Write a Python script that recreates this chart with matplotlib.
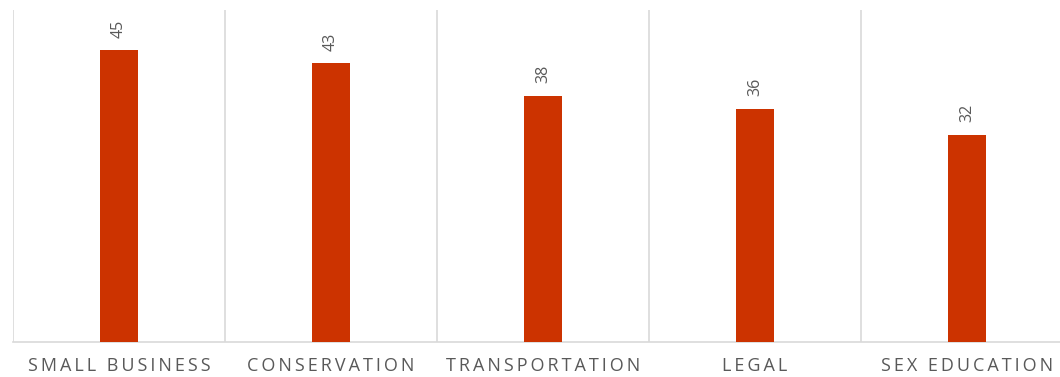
import matplotlib
matplotlib.use("Agg")
from matplotlib import pyplot as plt
import numpy as np

categories = ["SMALL BUSINESS", "CONSERVATION", "TRANSPORTATION", "LEGAL", "SEX EDUCATION"]
counts = [45, 43, 38, 36, 32]

bar_color = "#CC3300"
text_color = "#595959"
line_color = "#D9D9D9"


def spaced(s):
    # loose tracking for the category names
    return "\u2009".join(s)


fig = plt.figure(figsize=(10.6, 3.77), dpi=100)
# the plot area runs a little past the right edge of the figure
ax = fig.add_axes([13 / 1060, 35 / 377, 1060 / 1060, 332 / 377])

x = np.arange(len(categories))
rects = ax.bar(x, counts, 0.18, color=bar_color, zorder=3)

ax.set_xlim(-0.5, len(categories) - 0.5)
ax.set_ylim(0, 51.2)

for rect, val in zip(rects, counts):
    ax.annotate(str(val), (rect.get_x() + rect.get_width() / 2, rect.get_height()),
                xytext=(0, 9), textcoords="offset points", rotation=90,
                ha="center", va="bottom", color=text_color, fontsize=11.5,
                family=["Open Sans", "DejaVu Sans"])

# category separators
ax.set_xticks(np.arange(-0.5, len(categories), 1.0), minor=True)
ax.grid(True, which="minor", axis="x", color=line_color, linewidth=1.2, zorder=0)
ax.tick_params(which="both", length=0)
ax.set_xticks(x)
ax.set_xticklabels([spaced(c) for c in categories], color=text_color, fontsize=13,
                   family=["Open Sans", "DejaVu Sans"])
ax.tick_params(axis="x", pad=11)
ax.set_yticks([])

for side in ("top", "right", "left"):
    ax.spines[side].set_visible(False)
ax.spines["bottom"].set_color(line_color)
ax.spines["bottom"].set_linewidth(1.2)

fig.savefig("out.png", dpi=100)
